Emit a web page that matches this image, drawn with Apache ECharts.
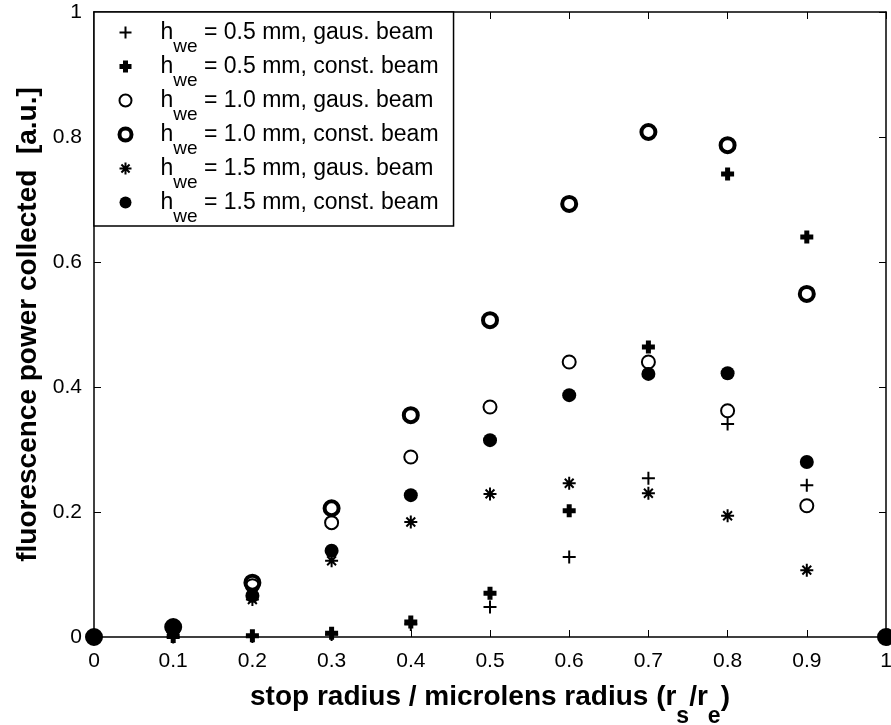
<!DOCTYPE html>
<html>
<head>
<meta charset="utf-8">
<script src="https://cdn.jsdelivr.net/npm/echarts@6/dist/echarts.min.js"></script>
<style>
  html, body { margin: 0; padding: 0; background: #fff; }
  #chart { width: 891px; height: 725px; }
</style>
</head>
<body>
<div id="chart"></div>
<script>
// stop radius / microlens radius
const stopRatio = [0, 0.1, 0.2, 0.3, 0.4, 0.5, 0.6, 0.7, 0.8, 0.9, 1.0];

// fluorescence power collected [a.u.]
const gaus05  = [0, 0.000, 0.001, 0.004, 0.020, 0.048, 0.128, 0.254, 0.341, 0.243, 0];
const const05 = [0, 0.001, 0.002, 0.006, 0.024, 0.070, 0.202, 0.464, 0.741, 0.640, 0];
const gaus10  = [0, 0.012, 0.082, 0.183, 0.288, 0.368, 0.440, 0.440, 0.362, 0.210, 0];
const const10 = [0, 0.016, 0.087, 0.206, 0.355, 0.507, 0.693, 0.808, 0.787, 0.549, 0];
const gaus15  = [0, 0.010, 0.060, 0.122, 0.184, 0.229, 0.246, 0.230, 0.194, 0.107, 0];
const const15 = [0, 0.015, 0.066, 0.138, 0.227, 0.315, 0.387, 0.421, 0.422, 0.280, 0];

const seriesNames = [
  'h_{we} = 0.5 mm, gaus. beam',
  'h_{we} = 0.5 mm, const. beam',
  'h_{we} = 1.0 mm, gaus. beam',
  'h_{we} = 1.0 mm, const. beam',
  'h_{we} = 1.5 mm, gaus. beam',
  'h_{we} = 1.5 mm, const. beam'
];

const xTickLabels = ['0', '0.1', '0.2', '0.3', '0.4', '0.5', '0.6', '0.7', '0.8', '0.9', '1'];
const yTickLabels = ['0', '0.2', '0.4', '0.6', '0.8', '1'];

const FONT = 'Liberation Sans';
const PLUS = 'path://M0 5L10 5M5 0L5 10';
const STAR = 'path://M0 5L10 5M5 0L5 10M1.6 1.6L8.4 8.4M8.4 1.6L1.6 8.4';

// marker style of each series: [symbol, size, fill, border width]
const markers = [
  [PLUS, 13, '#000', 2],
  [PLUS, 13, '#000', 5],
  ['circle', 13, 'rgba(0,0,0,0)', 2],
  ['circle', 14, 'rgba(0,0,0,0)', 4],
  [STAR, 13, '#000', 2],
  ['circle', 14, '#000', 0]
];
const values = [gaus05, const05, gaus10, const10, gaus15, const15];

const series = values.map((vals, i) => ({
  name: seriesNames[i],
  type: 'scatter',
  symbol: markers[i][0],
  symbolSize: markers[i][1],
  itemStyle: {
    color: markers[i][2],
    borderColor: '#000',
    borderWidth: markers[i][3],
    opacity: 1
  },
  data: stopRatio.map((x, k) => [x, vals[k]]),
  clip: false,
  z: 2 + i
}));

const legendBorder = [2, 5, 2, 4, 2, 0];

function axisCommon(extra) {
  return Object.assign({
    type: 'value',
    axisLine: { show: true, onZero: false, lineStyle: { color: '#000', width: 1.5 } },
    axisTick: { show: true, inside: true, length: 7, lineStyle: { color: '#000', width: 1 } },
    splitLine: { show: false }
  }, extra);
}

const chart = echarts.init(document.getElementById('chart'), null, { renderer: 'canvas' });
chart.setOption({
  animation: false,
  backgroundColor: '#fff',
  grid: { left: 94, top: 12, width: 792, height: 625, containLabel: false, outerBoundsMode: 'none' },
  legend: {
    orient: 'vertical',
    left: 94,
    top: 12,
    selectedMode: false,
    backgroundColor: '#fff',
    borderColor: '#000',
    borderWidth: 1.5,
    borderRadius: 0,
    padding: [9, 15, 0, 23],
    itemGap: -1,
    itemWidth: 60,
    itemHeight: 12,
    data: seriesNames.map((n, i) => ({ name: n, itemStyle: { borderWidth: legendBorder[i] } })),
    formatter: name => name.replace(/^h_\{we\}(.*)$/, '{m|h}{s|we}{m|$1}'),
    textStyle: {
      color: '#000',
      fontFamily: FONT,
      rich: {
        m: { fontSize: 23, lineHeight: 23, fontFamily: FONT, color: '#000', verticalAlign: 'top' },
        s: { fontSize: 19, lineHeight: 15, fontFamily: FONT, color: '#000', verticalAlign: 'top', padding: [16, 0, 0, 0] }
      }
    }
  },
  xAxis: [
    axisCommon({
      min: 0, max: 1, interval: 0.1, position: 'bottom',
      axisLabel: {
        color: '#000', fontSize: 21, fontFamily: FONT, margin: 14,
        formatter: v => xTickLabels[Math.round(v * 10)]
      },
      name: '{b|stop radius / microlens radius (r}{s|s}{b|/r}{s|e}{b|)}',
      nameLocation: 'middle',
      nameGap: 46,
      nameTextStyle: {
        rich: {
          b: { fontSize: 28, fontWeight: 'bold', fontFamily: FONT, color: '#000', lineHeight: 28, verticalAlign: 'top' },
          s: { fontSize: 23, fontWeight: 'bold', fontFamily: FONT, color: '#000', lineHeight: 14, verticalAlign: 'top', padding: [22, 0, 0, 0] }
        }
      }
    }),
    axisCommon({
      min: 0, max: 1, interval: 0.1, position: 'top',
      axisLabel: { show: false }
    })
  ],
  yAxis: [
    axisCommon({
      min: 0, max: 1, interval: 0.2, position: 'left',
      axisLabel: {
        color: '#000', fontSize: 21, fontFamily: FONT, margin: 12,
        formatter: v => yTickLabels[Math.round(v * 5)]
      },
      name: 'fluorescence power collected  [a.u.]',
      nameLocation: 'middle',
      nameGap: 52,
      nameTextStyle: { fontSize: 28, fontWeight: 'bold', fontFamily: FONT, color: '#000' }
    }),
    axisCommon({
      min: 0, max: 1, interval: 0.2, position: 'right',
      axisLabel: { show: false }
    })
  ],
  series: series
});
</script>
</body>
</html>
